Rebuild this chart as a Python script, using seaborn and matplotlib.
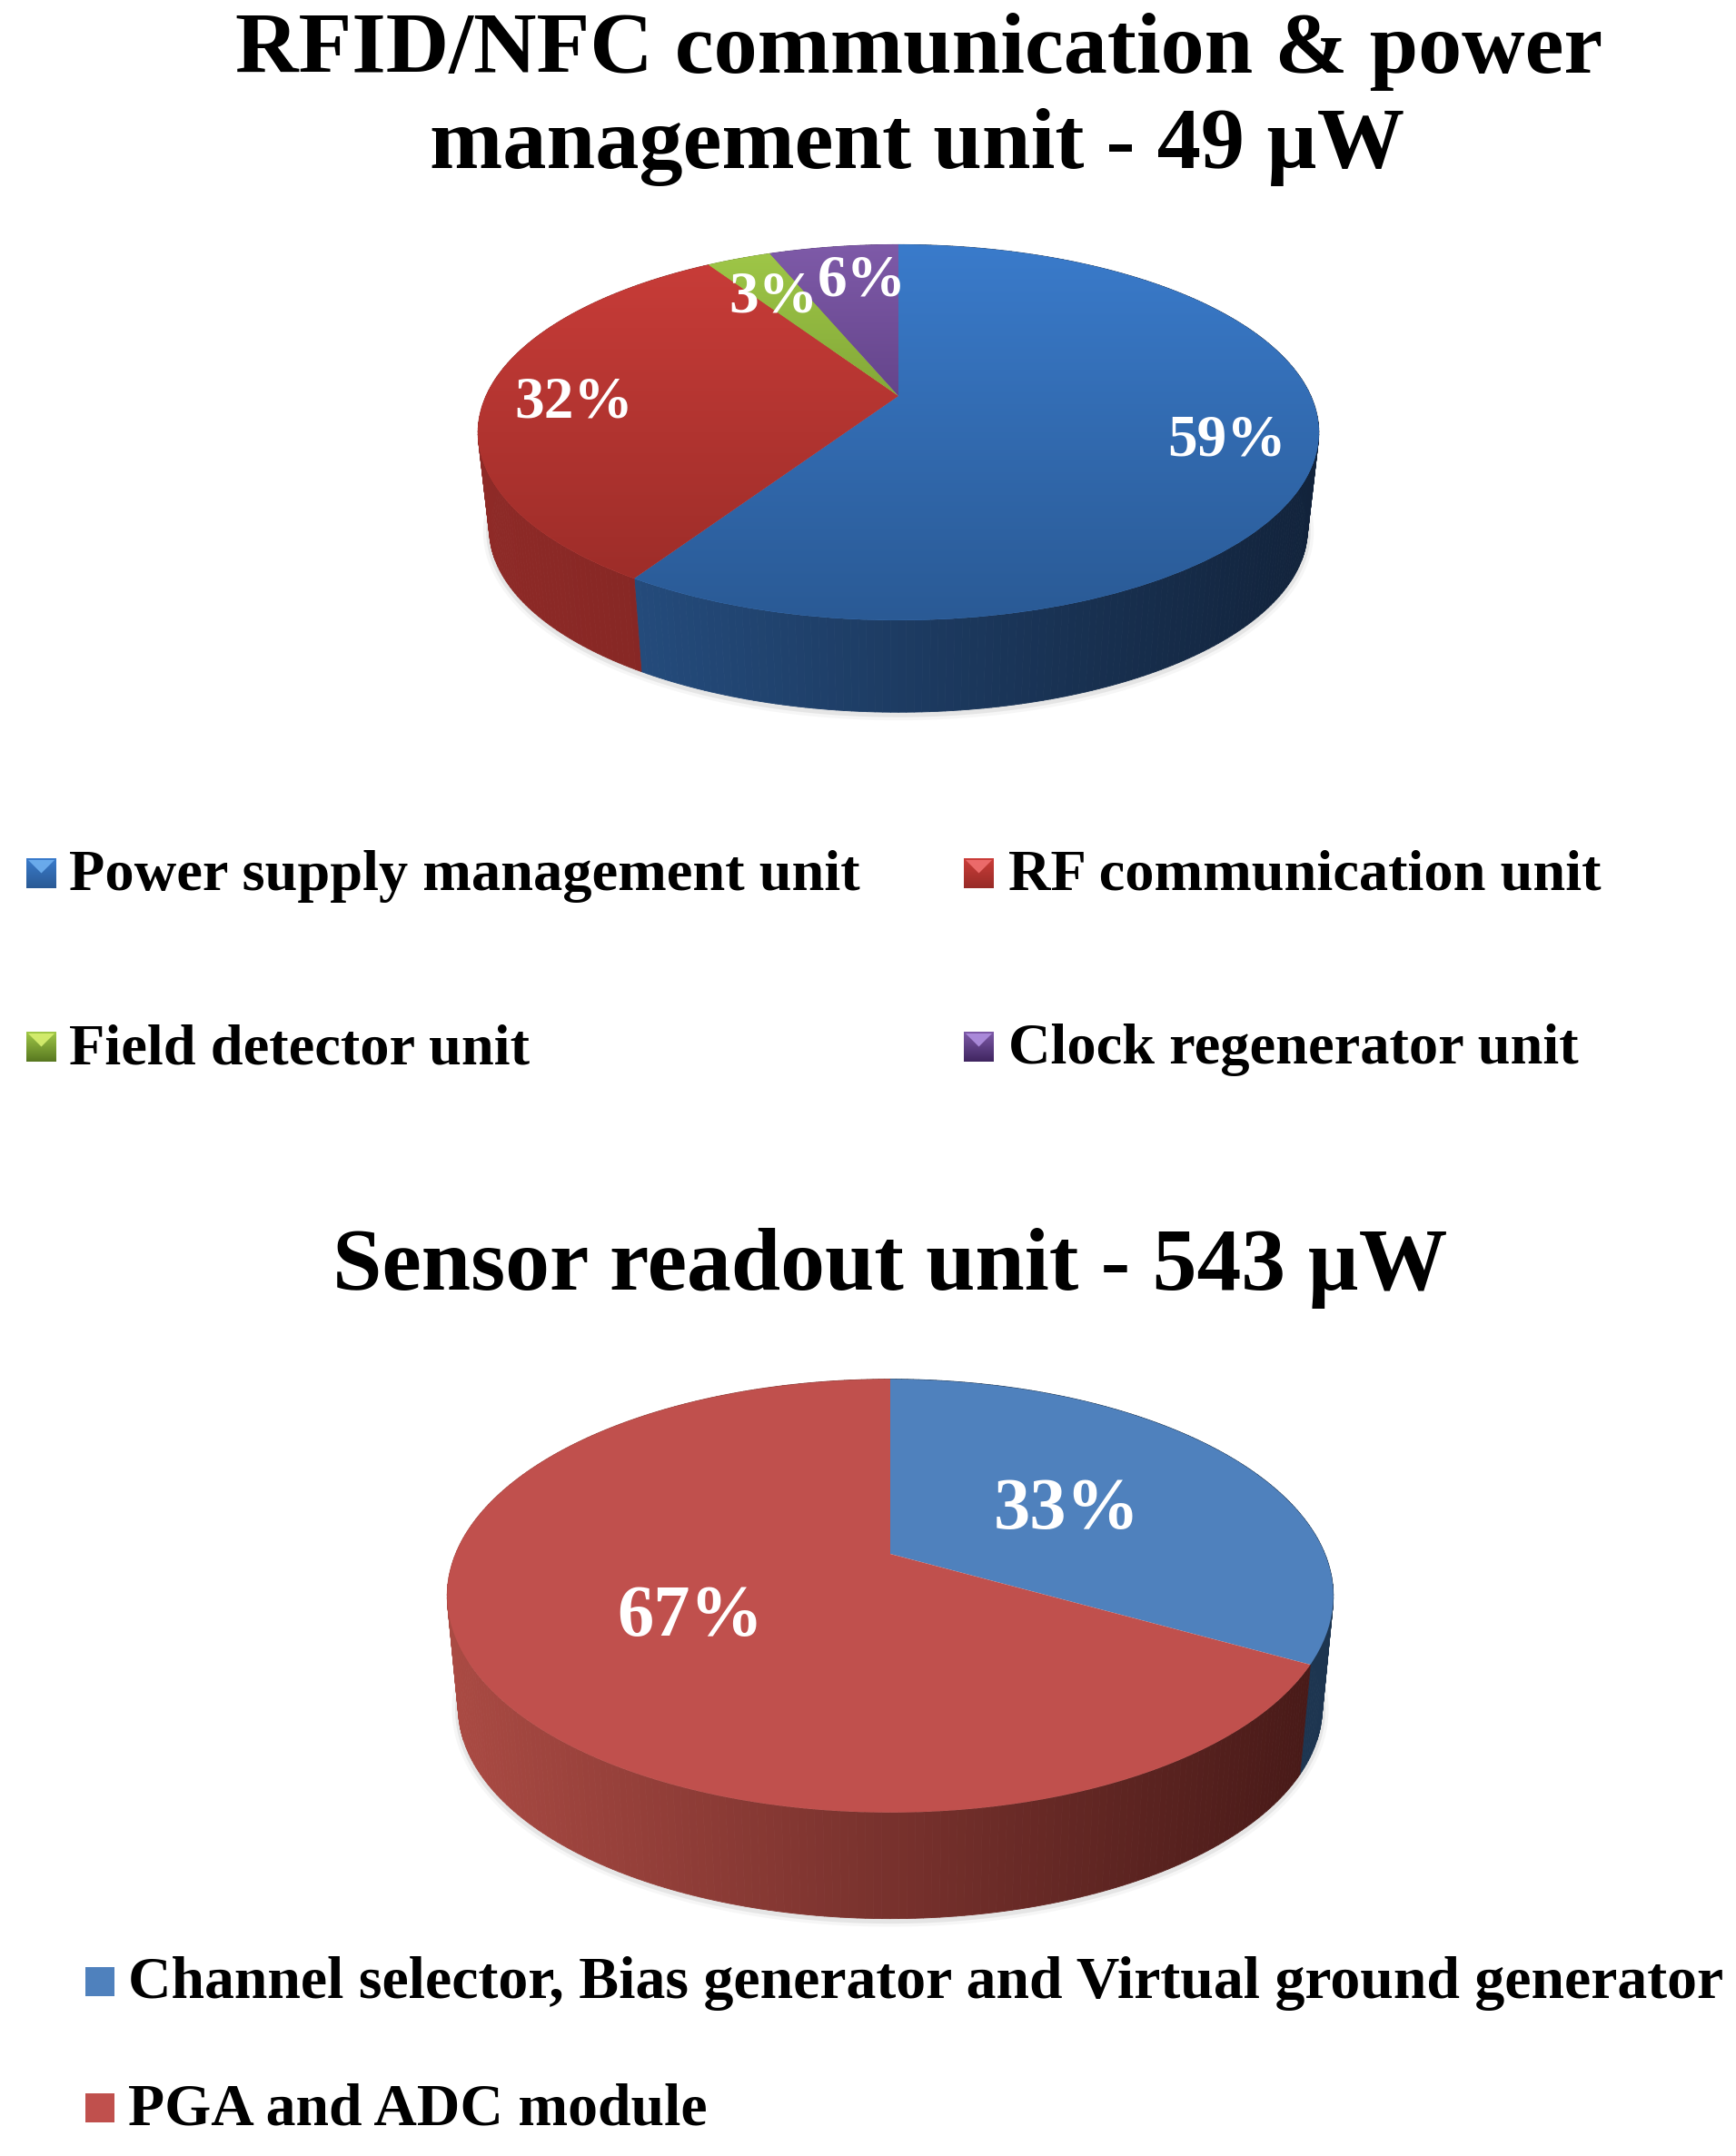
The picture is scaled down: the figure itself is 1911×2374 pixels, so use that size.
import numpy as np
import matplotlib
matplotlib.use('Agg')
import matplotlib.pyplot as plt
import seaborn as sns
from matplotlib.collections import PolyCollection
from matplotlib.patches import Polygon, Rectangle
from matplotlib.transforms import Transform

sns.set_theme(style="white")
plt.rcParams['font.family'] = ['Liberation Serif', 'DejaVu Serif']
plt.rcParams['font.weight'] = 'bold'

# data
top_title = ['RFID/NFC communication & power', 'management unit - 49 µW']
top_units = ['Power supply management unit', 'RF communication unit',
             'Field detector unit', 'Clock regenerator unit']
top_values = [59, 32, 3, 6]

bottom_title = 'Sensor readout unit - 543 µW'
bottom_units = ['Channel selector, Bias generator and Virtual ground generator',
                'PGA and ADC module']
bottom_values = [33, 67]

# slice colours
top_face = [('#3A7BCB', '#2A5A95'), ('#CA3D39', '#982B27'),
            ('#A0C848', '#587820'), ('#7E5AA8', '#3F2560')]
top_wall = [('#28548A', '#12233B'), ('#8E2A27', '#6A1C1A'),
            ('#76962F', '#4F6620'), ('#5B3A80', '#3A2455')]
bottom_face = [('#4F81BD', '#4F81BD'), ('#C0504D', '#C0504D')]
bottom_wall = [('#1D3550', '#1D3550'), ('#AA4A43', '#461917')]


class DiscView(Transform):
    # perspective view of the unit disc, the centre ends up above the ellipse centre
    input_dims = 2
    output_dims = 2
    is_separable = False
    has_inverse = False

    def __init__(self, cx, cy, a, b, k):
        super().__init__()
        self.cx, self.cy, self.a, self.b, self.k = cx, cy, a, b, k

    def transform_non_affine(self, pts):
        pts = np.asarray(pts)
        d = 1 + self.k * pts[:, 1]
        return np.column_stack([self.cx + self.a * pts[:, 0] / d,
                                self.cy - self.b * pts[:, 1] / d])


fig = plt.figure(figsize=(19.11, 23.74), dpi=100)
ax = fig.add_axes([0, 0, 1, 1])


def draw_pie(values, face, wall, cx, cy, a, b, k, shrink, cy_low):
    top = DiscView(cx, cy, a, b, k)
    low = DiscView(cx, cy_low, a * shrink, b * shrink, k)

    wedges, _ = ax.pie(values, startangle=90, counterclock=False, colors=[f[0] for f in face],
                       wedgeprops={'linewidth': 0})
    ytop, ybot = cy - b / (1 + k), cy + b / (1 - k)
    left, right = cx - a * 1.02, cx + a * 1.02

    # soft shadow under the wall
    th = np.linspace(0, 2 * np.pi, 300)
    ring = low.transform_non_affine(np.column_stack([np.cos(th), np.sin(th)]))
    for lw, al in [(10, 0.05), (5, 0.10)]:
        ax.plot(ring[:, 0], ring[:, 1] + 2, color='#555555', lw=lw, alpha=al, zorder=0.5)

    # side wall, thin strips with a left to right shade
    start = 0
    for val, (c0, c1) in zip(values, wall):
        ang = np.linspace(start, start + val, max(val * 4, 6) + 1) / 100 * 2 * np.pi
        unit = np.column_stack([np.sin(ang), np.cos(ang)])
        up, dn = top.transform_non_affine(unit), low.transform_non_affine(unit)
        polys, cols = [], []
        c0, c1 = np.array(matplotlib.colors.to_rgb(c0)), np.array(matplotlib.colors.to_rgb(c1))
        for i in range(len(ang) - 1):
            polys.append([up[i], up[i + 1], dn[i + 1], dn[i]])
            f = np.clip(((up[i, 0] + up[i + 1, 0]) / 2 - left) / (right - left), 0, 1)
            cols.append(c0 + (c1 - c0) * f)
        ax.add_collection(PolyCollection(polys, facecolors=cols, edgecolors=cols, linewidths=0.6, zorder=1))
        start += val

    # top surface
    for w, (c0, c1) in zip(wedges, face):
        w.set_transform(top + ax.transData)
        w.set_zorder(2)
        if c0 != c1:
            c0, c1 = np.array(matplotlib.colors.to_rgb(c0)), np.array(matplotlib.colors.to_rgb(c1))
            grad = np.linspace(c0, c1, 256)[:, None, :]
            im = ax.imshow(grad, extent=[left, right, ybot, ytop], aspect='auto', zorder=3,
                           interpolation='bilinear')
            im.set_clip_path(w.get_path(), w.get_transform())


def legend_mark(x, y, size, c0, c1, tip=None):
    if tip is None:
        ax.add_patch(Rectangle((x, y), size, size, facecolor=c0, edgecolor='none', zorder=3))
        return
    c0, c1 = np.array(matplotlib.colors.to_rgb(c0)), np.array(matplotlib.colors.to_rgb(c1))
    ax.imshow(np.linspace(c0, c1, 32)[:, None, :], extent=[x, x + size, y + size, y], aspect='auto', zorder=3)
    ax.add_patch(Polygon([(x + 2, y + 2), (x + size - 2, y + 2), (x + size / 2, y + size * 0.5)],
                         facecolor=tip, edgecolor='none', alpha=0.9, zorder=4))


draw_pie(top_values, top_face, top_wall, 989, 436, 454, 199, 0.194, 0.973, 544)
draw_pie(bottom_values, bottom_face, bottom_wall, 980, 1711, 478.5, 229.6, 0.1937, 0.975, 1835)

ax.set_aspect('auto')
ax.set_xlim(0, 1911)
ax.set_ylim(2374, 0)
ax.set_axis_off()

# titles
ax.text(1012, 80, top_title[0], fontsize=69.3, ha='center', va='baseline', color='black')
ax.text(1010, 185, top_title[1], fontsize=69.4, ha='center', va='baseline', color='black')
ax.text(980, 1420, bottom_title, fontsize=70.3, ha='center', va='baseline', color='black')

# percent labels
top_label_xy = [(1350, 485), (632, 444), (851, 327), (949, 309)]
for v, (x, y) in zip(top_values, top_label_xy):
    ax.text(x, y, f'{v}%', fontsize=47, color='white', ha='center', va='center', zorder=5)
bottom_label_xy = [(1174, 1664), (760, 1782)]
for v, (x, y) in zip(bottom_values, bottom_label_xy):
    ax.text(x, y, f'{v}%', fontsize=58, color='white', ha='center', va='center', zorder=5)

# legends
top_mark_xy = [(29, 945), (1061, 945), (29, 1136), (1061, 1136)]
top_text_xy = [(76, 980), (1110, 980), (76, 1171), (1110, 1171)]
top_tips = ['#6FB0F0', '#F07070', '#D8F070', '#B090E0']
for name, (mx, my), (tx, ty), f, tip in zip(top_units, top_mark_xy, top_text_xy, top_face, top_tips):
    legend_mark(mx, my, 33, f[0], f[1], tip)
    ax.text(tx, ty, name, fontsize=46.4, ha='left', va='baseline', color='black')

bottom_mark_xy = [(94, 2166), (94, 2305)]
bottom_text_xy = [(141, 2200), (141, 2339)]
for name, (mx, my), (tx, ty), f in zip(bottom_units, bottom_mark_xy, bottom_text_xy, bottom_face):
    legend_mark(mx, my, 32, f[0], f[1])
    ax.text(tx, ty, name, fontsize=47.3, ha='left', va='baseline', color='black')

fig.savefig('out.png', dpi=100, facecolor='white')
